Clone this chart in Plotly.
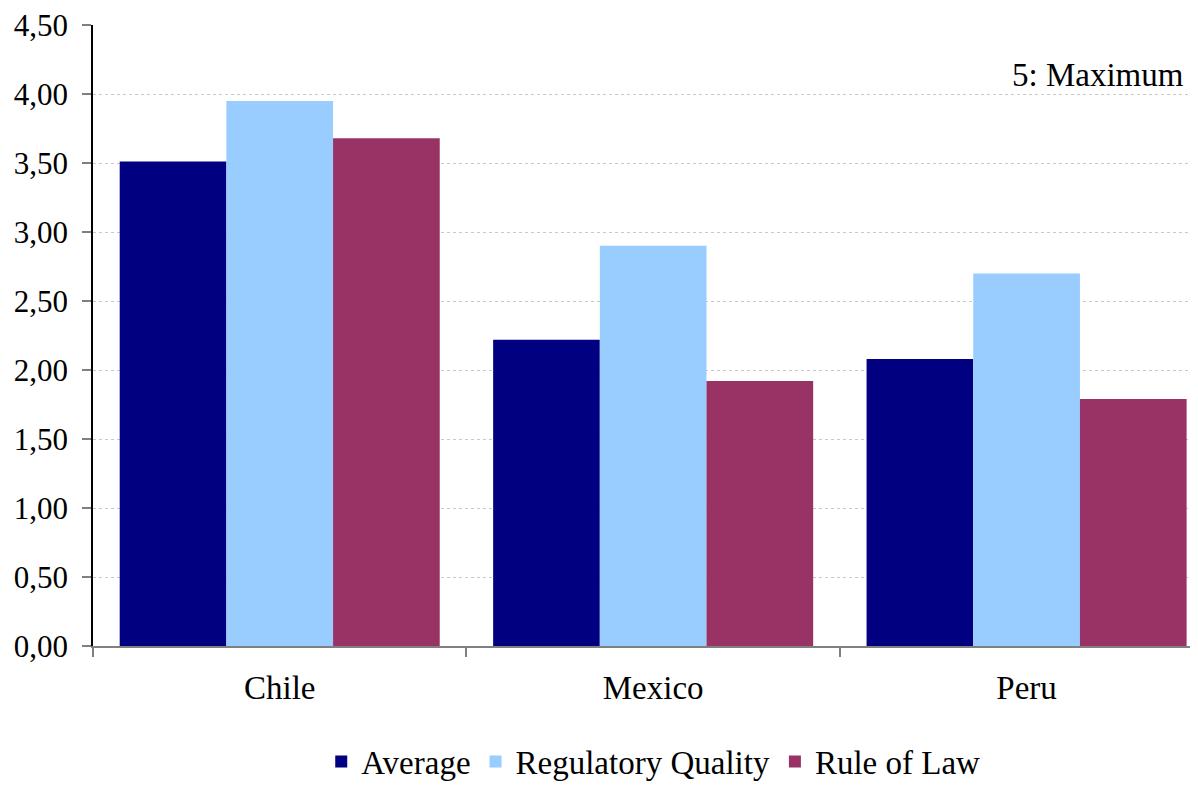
import plotly.graph_objects as go

categories = ["Chile", "Mexico", "Peru"]
average = [3.51, 2.22, 2.08]
regulatory_quality = [3.95, 2.90, 2.70]
rule_of_law = [3.68, 1.92, 1.79]
y_ticks = [0, 0.5, 1, 1.5, 2, 2.5, 3, 3.5, 4, 4.5]

FONT = "Liberation Serif"

fig = go.Figure()
fig.add_bar(name="Average", x=categories, y=average, marker_color="#000080", marker_line_width=0)
fig.add_bar(name="Regulatory Quality", x=categories, y=regulatory_quality, marker_color="#99CCFF", marker_line_width=0)
fig.add_bar(name="Rule of Law", x=categories, y=rule_of_law, marker_color="#993366", marker_line_width=0)

fig.update_layout(
    width=1190, height=778,
    margin=dict(l=85, r=0, t=17, b=140, autoexpand=False),
    paper_bgcolor="white", plot_bgcolor="white",
    barmode="group", bargap=0.143, bargroupgap=0,
    separators=",.",
    font=dict(family=FONT, size=31, color="black"),
    showlegend=True,
    legend=dict(orientation="h", x=0.507, xanchor="center", xref="paper", y=-0.186, yanchor="middle", yref="paper",
                font=dict(size=33), itemwidth=30, tracegroupgap=0),
    annotations=[dict(text="5: Maximum", xref="paper", yref="paper", x=0.989, y=0.92,
                      xanchor="right", yanchor="middle", showarrow=False, font=dict(size=33))],
)
fig.update_xaxes(range=[-0.5, 2.459], showline=True, linecolor="#808080", linewidth=1.5,
                 ticks="outside", tickson="boundaries", ticklen=9, tickcolor="#808080", tickwidth=1.5,
                 showgrid=False, ticklabelstandoff=12, tickfont=dict(size=33), automargin=False)
fig.update_yaxes(range=[0, 4.5], tickvals=y_ticks, tickformat=".2f", showline=True, linecolor="black", linewidth=1.5,
                 ticks="outside", ticklen=9, tickcolor="#808080", tickwidth=1.5, ticklabelstandoff=8,
                 ticklabeloverflow="allow", automargin=False,
                 showgrid=True, gridcolor="#C8C8C8", griddash="dot", gridwidth=1, zeroline=False)

fig.write_html("out.html")
